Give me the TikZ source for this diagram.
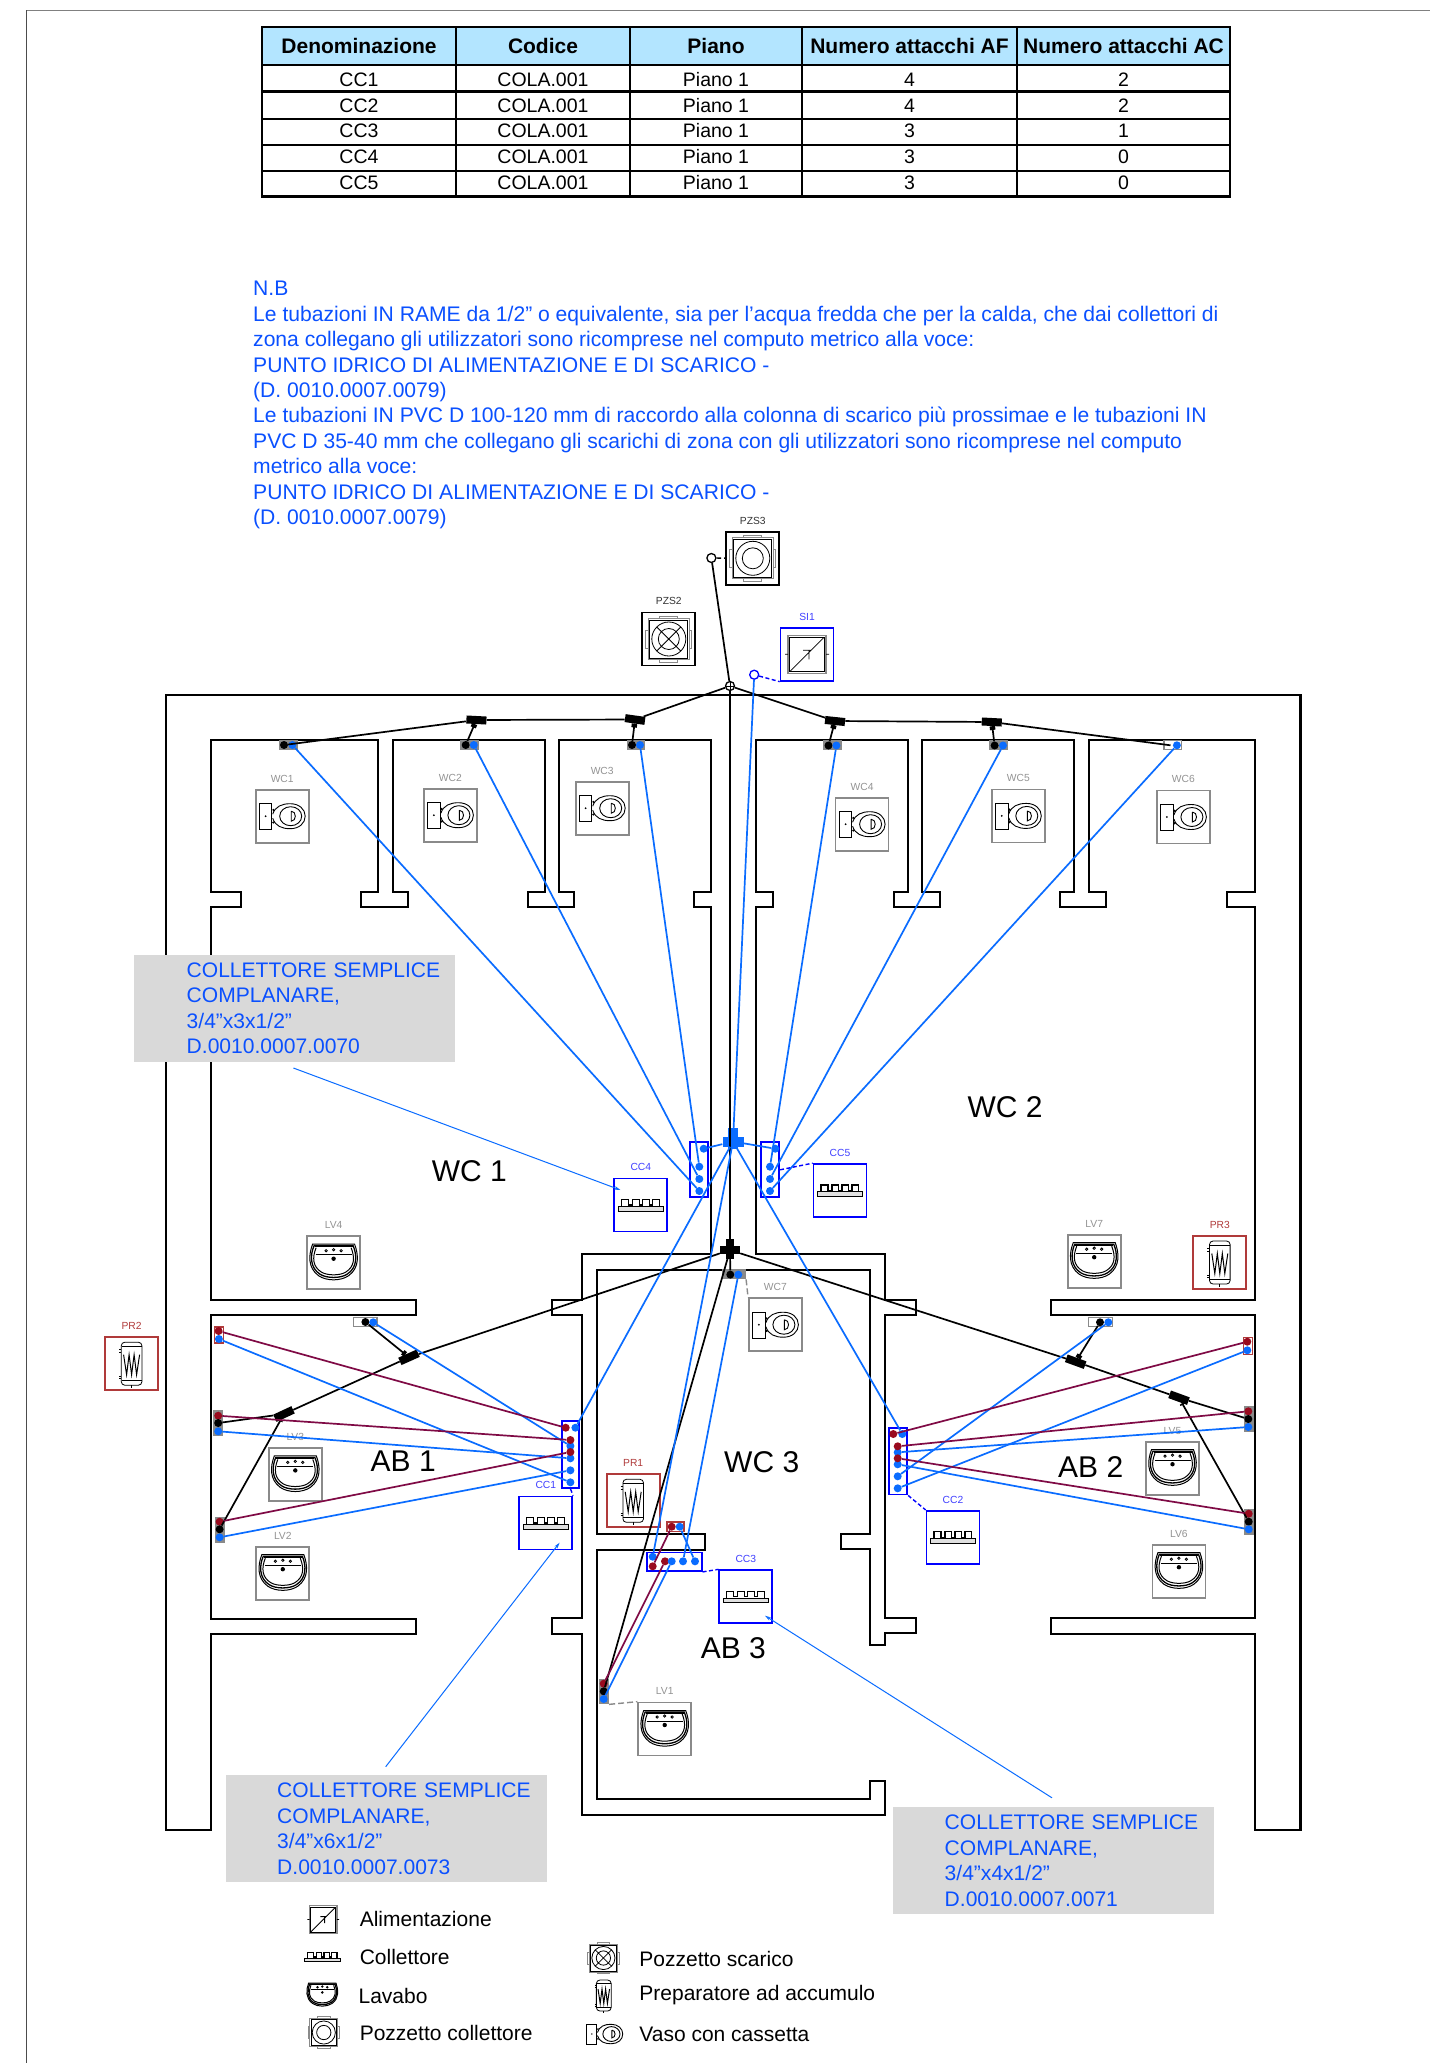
\documentclass[tikz,border=0pt]{standalone}
\usepackage{fontspec}
\setmainfont{Liberation Sans}
\usetikzlibrary{arrows.meta,calc}
\definecolor{pipeblue}{HTML}{0A6CFF}
\definecolor{pipered}{HTML}{7F0A45}
\definecolor{dotred}{HTML}{990A1E}
\definecolor{fixblue}{HTML}{0000FF}
\definecolor{fixred}{HTML}{B03A3A}
\definecolor{fixgray}{HTML}{8A8A8A}
\definecolor{textblue}{HTML}{0A50FF}
\definecolor{boxgray}{HTML}{D9D9D9}
\definecolor{headblue}{HTML}{B3E5FF}
\newcommand{\fsz}[1]{\fontsize{#1}{#1}\selectfont}
\tikzset{
  x=1pt,y=-1pt,
  wall/.style={line width=2.3pt,line join=miter,draw=black},
  fix/.style={draw,line width=1.7pt,minimum width=53pt,minimum height=53pt,inner sep=0pt,shape=rectangle},
  lblgray/.style={text=gray!85,inner sep=0pt,font=\fsz{10.3}},
  lblblue/.style={text=fixblue!75!white,inner sep=0pt,font=\fsz{10.3}},
  lblred/.style={text=fixred,inner sep=0pt,font=\fsz{10.3}},
  lbldark/.style={text=black!80,inner sep=0pt,font=\fsz{10.3}},
  room/.style={inner sep=0pt,font=\fsz{30}},
  pb/.style={circle,fill=pipeblue,minimum size=8pt,inner sep=0pt},
  pr/.style={circle,fill=dotred,minimum size=8pt,inner sep=0pt},
  pk/.style={circle,fill=black,minimum size=8pt,inner sep=0pt},
  bluepipe/.style={draw=pipeblue,line width=1.7pt},
  redpipe/.style={draw=pipered,line width=1.7pt},
  blackpipe/.style={draw=black,line width=1.7pt},
  tj/.style={rectangle,fill=black,minimum width=20pt,minimum height=8pt,inner sep=0pt},
  tjb/.style={rectangle,fill=pipeblue,minimum width=21pt,minimum height=10pt,inner sep=0pt},
  stem/.style={draw=black,line width=5.5pt},
  ring/.style={circle,draw=black,line width=1.3pt,minimum size=9pt,inner sep=0pt},
  pg/.style={rectangle,draw=fixgray,fill=fixgray,line width=1.2pt,inner sep=0pt},
  pw/.style={rectangle,draw=fixgray,fill=white,line width=1.2pt,inner sep=0pt},
  pred/.style={rectangle,draw=fixred,fill=white,line width=1.2pt,inner sep=0pt},
  manif/.style={rectangle,draw=fixblue,line width=1.7pt,inner sep=0pt},
  dashb/.style={draw=fixblue,line width=1.4pt,dash pattern=on 4pt off 2.5pt},
  dashg/.style={draw=fixgray,line width=1.4pt,dash pattern=on 6pt off 3pt},
  leader/.style={draw=pipeblue,line width=1pt,-{Stealth[length=6pt,width=3.5pt]}},
  note/.style={rectangle,anchor=north west,fill=boxgray,text=textblue,minimum width=321pt,minimum height=107pt,text width=321pt,inner sep=0pt,align=left,font=\fontsize{21.05}{25.6}\selectfont},
  legtxt/.style={anchor=west,inner sep=0pt,font=\fsz{21}},
  cellh/.style={inner sep=0pt,font=\fsz{21}\bfseries},
  cellb/.style={inner sep=0pt,font=\fsz{19.5}},
}
% symbols, drawn round (0,0)
\newcommand{\wcsym}[3]{\begin{scope}[shift={(#1,#2)},scale=#3,line width=.9pt]
 \draw (-23,-12.7) rectangle (-10.3,13.4);
 \fill (-16.5,0) circle (1);
 \draw (-9.5,-2) .. controls (-7,-10) and (0,-12.5) .. (8,-12.5) .. controls (17,-12.5) and (23,-7) .. (23,0) .. controls (23,7) and (17,12.5) .. (8,12.5) .. controls (0,12.5) and (-7,10) .. (-9.5,2);
 \draw (8.5,0) ellipse (11 and 9.5);
 \draw (9,-5)--(9,5) .. controls (14.5,5) and (14.5,-5) .. (9,-5);
 \fill (-8.8,-6.3) circle (1.2) (-8.8,6.3) circle (1.2);
\end{scope}}
\newcommand{\lvsym}[3]{\begin{scope}[shift={(#1,#2)},scale=#3]
 \draw[line width=1pt] (-21,-18.5)--(21,-18.5) .. controls (25,-8) and (26,5) .. (15,13) .. controls (7,18.5) and (-7,18.5) .. (-15,13) .. controls (-26,5) and (-25,-8) .. (-21,-18.5) -- cycle;
 \draw[line width=1.3pt] (-19.5,-17)--(19.5,-17) .. controls (23.5,-8) and (24,5) .. (13.5,11.5) .. controls (7,15.8) and (-7,15.8) .. (-13.5,11.5) .. controls (-24,5) and (-23.5,-8) .. (-19.5,-17) -- cycle;
 \draw[line width=1pt] (-17.5,-15) .. controls (-21.5,-5) and (-21,4) .. (-12,9.5) .. controls (-6,13) and (6,13) .. (12,9.5) .. controls (21,4) and (21.5,-5) .. (17.5,-15);
 \draw[line width=.9pt] (-18,-8)--(18,-8);
 \draw[line width=1.6pt] (-19,-16.3)--(19,-16.3);
 \draw[line width=.8pt] (-7.5,-12) circle (1.2) (0,-13) circle (1.2) (7.5,-12) circle (1.2);
 \fill (0,-4) circle (2.2);
\end{scope}}
\newcommand{\prsym}[3]{\begin{scope}[shift={(#1,#2)},scale=#3,line width=.8pt]
 \draw[rounded corners=3.5pt] (-10.3,-21.5) rectangle (10.3,21.5);
 \draw (-10,-17)--(10,-17) (-10,17)--(10,17);
 \draw (-12.5,-14)--(-10.3,-14) (-12.5,-11)--(-10.3,-11) (-12.5,13)--(-10.3,13) (-12.5,15)--(-10.3,15) (0,21.5)--(0,24.5);
 \draw[line width=1pt] (-8,-9)--(-5,11)--(-2.5,-9)--(0,11)--(2.5,-9)--(5,11)--(8,-9);
\end{scope}}
\newcommand{\ccsym}[3]{\begin{scope}[shift={(#1,#2)},scale=#3]
 \fill[black!12] (-22.5,1.3) rectangle (22.5,6);
 \draw[line width=1pt] (-22.5,1.3) rectangle (22.5,6);
 \draw[line width=1.2pt] (-19,1.3)--(-19,-5.5)--(-12,-5.5)--(-12,0)--(-8,0)--(-8,-5.5)--(-1.5,-5.5)--(-1.5,0)--(2,0)--(2,-5.5)--(8.5,-5.5)--(8.5,0)--(12,0)--(12,-5.5)--(18.5,-5.5)--(18.5,1.3);
\end{scope}}
\newcommand{\sisym}[3]{\begin{scope}[shift={(#1,#2)},scale=#3]
 \draw[fixgray,line width=1.3pt] (-19,-19) rectangle (19,19);
 \draw[line width=.7pt] (-17.3,-17.3) rectangle (17.3,17.3);
 \draw[line width=.8pt] (-22,0)--(-19,0) (19,0)--(22,0) (-17,17)--(17,-17) (-4,-4)--(4,-4) (2,-4)--(2,5);
\end{scope}}
\newcommand{\pzbase}{
 \draw[fixgray,line width=1.1pt] (-20.5,-20.5) rectangle (20.5,20.5);
 \draw[line width=.7pt] (-19,-19) rectangle (19,19);
 \draw[fixgray,line width=.8pt] (-9,-20.5) rectangle (9,-23) (-9,20.5) rectangle (9,23) (-23,-9) rectangle (-20.5,9) (20.5,-9) rectangle (23,9);
}
\newcommand{\pzcsym}[3]{\begin{scope}[shift={(#1,#2)},scale=#3]
 \pzbase
 \draw[line width=.8pt] (0,0) circle (17) (0,0) circle (10.5);
\end{scope}}
\newcommand{\pzssym}[3]{\begin{scope}[shift={(#1,#2)},scale=#3]
 \pzbase
 \draw[line width=.8pt] (0,0) circle (17) (0,0) circle (10.5) (-12,-12)--(12,12) (-12,12)--(12,-12);
\end{scope}}
\newcommand{\fixture}[6]{
 \node[fix,draw=#4] (#1) at (#2,#3) {};
 \node[#6] (#1l) at (#2,#3-37.7) {#5};
}
\begin{document}
\begin{tikzpicture}
\useasboundingbox (0,0) rectangle (1430,2063);
\fill[white] (0,0) rectangle (1430,2063);
% sheet frame
\draw[gray,line width=1.6pt] (26,10.5)--(1430,10.5);
\draw[black!70,line width=.8pt] (26,10.5)--(26,2063);
% table
\fill[headblue] (262,27) rectangle (1230,65);
\draw[line width=1.4pt] (456,27)--(456,196.5) (630,27)--(630,196.5) (802,27)--(802,196.5) (1017,27)--(1017,196.5);
\draw[line width=2.6pt] (262,27) rectangle (1230,196.5);
\draw[line width=2.4pt] (262,65)--(1230,65) (262,91.5)--(1230,91.5) (262,119)--(1230,119) (262,145)--(1230,145) (262,171)--(1230,171);
\node[cellh] (hA) at (359,46.4) {Denominazione};
\node[cellh] (hB) at (543,46.4) {Codice};
\node[cellh] (hC) at (716,46.4) {Piano};
\node[cellh] (hD) at (909.5,46.4) {Numero attacchi AF};
\node[cellh] (hE) at (1123.5,46.4) {Numero attacchi AC};
\foreach \ya/\na/\nb/\nc in {80/CC1/4/2,105.4/CC2/4/2,131/CC3/3/1,156.8/CC4/3/0,183/CC5/3/0}{
 \node[cellb] (a\na) at (359,\ya) {\na};
 \node[cellb] (b\na) at (543,\ya) {COLA.001};
 \node[cellb] (c\na) at (716,\ya) {Piano 1};
 \node[cellb] (d\na) at (909.5,\ya) {\nb};
 \node[cellb] (e\na) at (1123.5,\ya) {\nc};
}
% note
\node[anchor=north west,inner sep=0pt,text=textblue,align=left,font=\fontsize{21.1}{25.45}\selectfont] (nb) at (253,281) {N.B\\
Le tubazioni IN RAME da 1/2" o equivalente, sia per l'acqua fredda che per la calda, che dai collettori di\\
zona collegano gli utilizzatori sono ricomprese nel computo metrico alla voce:\\
PUNTO IDRICO DI ALIMENTAZIONE E DI SCARICO -\\
(D. 0010.0007.0079)\\
Le tubazioni IN PVC D 100-120 mm di raccordo alla colonna di scarico più prossimae e le tubazioni IN\\
PVC D 35-40 mm che collegano gli scarichi di zona con gli utilizzatori sono ricomprese nel computo\\
metrico alla voce:\\
PUNTO IDRICO DI ALIMENTAZIONE E DI SCARICO -\\
(D. 0010.0007.0079)};
% walls
\draw[wall] (166,1830)--(166,695)--(1300.5,695)--(1300.5,1830)--(1255,1830)--(1255,1634)--(1051,1634)--(1051,1618)--(1255,1618)--(1255,1315)--(1051,1315)--(1051,1300)--(1255,1300)--(1255,907)--(1227,907)--(1227,892)--(1255,892)--(1255,740)--(1089,740)--(1089,892)--(1106,892)--(1106,907)--(1060,907)--(1060,892)--(1074,892)--(1074,740)--(922,740)--(922,892)--(940,892)--(940,907)--(894,907)--(894,892)--(908,892)--(908,740)--(756,740)--(756,892)--(773,892)--(773,907)--(756,907)--(756,1254)--(885,1254)--(885,1300)--(916,1300)--(916,1315)--(885,1315)--(885,1618)--(916,1618)--(916,1633)--(885,1633)--(885,1645)--(870,1645)--(870,1549)--(841,1549)--(841,1534)--(870,1534)--(870,1270)--(597,1270)--(597,1534)--(705,1534)--(705,1550)--(597,1550)--(597,1799)--(870,1799)--(870,1781)--(885,1781)--(885,1815)--(582,1815)--(582,1634)--(552,1634)--(552,1618)--(582,1618)--(582,1315)--(552,1315)--(552,1300)--(582,1300)--(582,1254)--(711,1254)--(711,907)--(694,907)--(694,892)--(711,892)--(711,740)--(559,740)--(559,892)--(574,892)--(574,907)--(528,907)--(528,892)--(545,892)--(545,740)--(393,740)--(393,892)--(408,892)--(408,907)--(361,907)--(361,892)--(378,892)--(378,740)--(211,740)--(211,892)--(241,892)--(241,907)--(211,907)--(211,1300)--(416,1300)--(416,1315)--(211,1315)--(211,1619)--(416,1619)--(416,1634)--(211,1634)--(211,1830)--cycle;
% room names
\node[room] (rWCa) at (469.3,1170.7) {WC 1};
\node[room] (rWCb) at (1005,1107.6) {WC 2};
\node[room] (rWCc) at (761.7,1461.7) {WC 3};
\node[room] (rABa) at (403.2,1461) {AB 1};
\node[room] (rABb) at (1090.7,1466.7) {AB 2};
\node[room] (rABc) at (733.3,1648.3) {AB 3};
% fixtures
\fixture{wca}{282.2}{816.2}{fixgray}{WC1}{lblgray}\wcsym{282.2}{816.2}{1}
\fixture{wcb}{450.4}{815.2}{fixgray}{WC2}{lblgray}\wcsym{450.4}{815.2}{1}
\fixture{wcc}{602.2}{808.2}{fixgray}{WC3}{lblgray}\wcsym{602.2}{808.2}{1}
\fixture{wcd}{862.1}{824.2}{fixgray}{WC4}{lblgray}\wcsym{862.1}{824.2}{1}
\fixture{wce}{1018.3}{815.9}{fixgray}{WC5}{lblgray}\wcsym{1018.3}{815.9}{1}
\fixture{wcf}{1183.4}{817}{fixgray}{WC6}{lblgray}\wcsym{1183.4}{817}{1}
\fixture{wcg}{775.4}{1324.7}{fixgray}{WC7}{lblgray}\wcsym{775.4}{1324.7}{1}
\fixture{lvd}{333.6}{1262.7}{fixgray}{LV4}{lblgray}\lvsym{333.6}{1262.7}{1}
\fixture{lvc}{295.3}{1474.4}{fixgray}{LV3}{lblgray}\lvsym{295.3}{1474.4}{1}
\fixture{lvb}{282.8}{1573.2}{fixgray}{LV2}{lblgray}\lvsym{282.8}{1573.2}{1}
\fixture{lvg}{1094.2}{1261.2}{fixgray}{LV7}{lblgray}\lvsym{1094.2}{1261.2}{1}
\fixture{lve}{1172.5}{1468.2}{fixgray}{LV5}{lblgray}\lvsym{1172.5}{1468.2}{1}
\fixture{lvf}{1178.9}{1571.2}{fixgray}{LV6}{lblgray}\lvsym{1178.9}{1571.2}{1}
\fixture{lva}{664.7}{1729}{fixgray}{LV1}{lblgray}\lvsym{664.7}{1729}{1}
\fixture{prb}{131.6}{1363.7}{fixred}{PR2}{lblred}\prsym{131.6}{1363.7}{1}
\fixture{pra}{633.2}{1500.8}{fixred}{PR1}{lblred}\prsym{633.2}{1500.8}{1}
\fixture{prc}{1219.8}{1262.5}{fixred}{PR3}{lblred}\prsym{1219.8}{1262.5}{1}
\fixture{ccd}{640.8}{1205}{fixblue}{CC4}{lblblue}\ccsym{640.8}{1205}{1}
\fixture{cce}{840}{1190.5}{fixblue}{CC5}{lblblue}\ccsym{840}{1190.5}{1}
\fixture{cca}{545.8}{1523}{fixblue}{CC1}{lblblue}\ccsym{545.8}{1523}{1}
\fixture{ccb}{953}{1537.3}{fixblue}{CC2}{lblblue}\ccsym{953}{1537.3}{1}
\fixture{ccc}{745.8}{1596.7}{fixblue}{CC3}{lblblue}\ccsym{745.8}{1596.7}{1}
\fixture{sia}{807}{654.3}{fixblue}{SI1}{lblblue}\sisym{807}{654.3}{1}
\fixture{pzb}{668.8}{639}{black}{PZS2}{lbldark}\pzssym{668.8}{639}{1}
\fixture{pzc}{752.8}{558.3}{black}{PZS3}{lbldark}\pzcsym{752.8}{558.3}{1}
% fitting plates
\node[pg,minimum width=17.5pt,minimum height=9pt] (plA) at (288.5,745.3) {};
\node[pg,minimum width=17.5pt,minimum height=9pt] (plB) at (469.4,745.3) {};
\node[pg,minimum width=17.5pt,minimum height=9pt] (plC) at (636,745.3) {};
\node[pg,minimum width=17.5pt,minimum height=9pt] (plD) at (832.2,745.3) {};
\node[pg,minimum width=17.5pt,minimum height=9pt] (plE) at (998.7,745.3) {};
\node[pw,minimum width=17.5pt,minimum height=9pt] (plF) at (1172.7,745.3) {};
\node[pg,minimum width=23pt,minimum height=9pt] (plG) at (734,1274.3) {};
\node[pw,minimum width=23.5pt,minimum height=9pt] (plH) at (365.3,1322.3) {};
\node[pred,minimum width=9pt,minimum height=16pt] (plI) at (218.6,1335) {};
\node[pg,minimum width=9pt,minimum height=24.5pt] (plJ) at (218.2,1423.3) {};
\node[pg,minimum width=9pt,minimum height=24.5pt] (plK) at (219.6,1529.7) {};
\node[pw,minimum width=24pt,minimum height=9pt] (plL) at (1100.3,1322.2) {};
\node[pred,minimum width=9pt,minimum height=16.5pt] (plM) at (1248,1346) {};
\node[pg,minimum width=9pt,minimum height=24.5pt] (plN) at (1248.6,1419.2) {};
\node[pg,minimum width=9pt,minimum height=24.5pt] (plO) at (1248.6,1521.8) {};
\node[pred,minimum width=17pt,minimum height=9.5pt] (plP) at (675.5,1526.7) {};
\node[pg,minimum width=9pt,minimum height=24.5pt] (plQ) at (604,1691.5) {};
% manifolds
\node[manif,minimum width=18pt,minimum height=55pt] (mnd) at (699.3,1169.8) {};
\node[manif,minimum width=18pt,minimum height=55pt] (mne) at (770.2,1169.8) {};
\node[manif,minimum width=17.5pt,minimum height=67pt] (mna) at (570.5,1454.6) {};
\node[manif,minimum width=18.5pt,minimum height=66.5pt] (mnb) at (898,1461.3) {};
\node[manif,minimum width=55pt,minimum height=18.5pt] (mnc) at (674.2,1561.8) {};
% ports: manifolds
\node[pb] (d1) at (703.7,1148.7) {};
\node[pb] (d2) at (699.3,1166.7) {};
\node[pb] (d3) at (699.3,1179) {};
\node[pb] (d4) at (699.3,1191) {};
\node[pb] (e1) at (775.3,1148.7) {};
\node[pb] (e2) at (770,1166.7) {};
\node[pb] (e3) at (770,1179) {};
\node[pb] (e4) at (770,1191) {};
\node[pr] (a1) at (565.7,1427.7) {};
\node[pb] (a2) at (575.4,1427.7) {};
\node[pb] (a4) at (570.4,1446) {};
\node[pb] (a6) at (570.4,1458.3) {};
\node[pr] (a3) at (570.4,1440) {};
\node[pr] (a5) at (570.4,1452) {};
\node[pb] (a7) at (570.4,1470.3) {};
\node[pb] (a8) at (570.4,1482.3) {};
\node[pr] (b1) at (893.3,1434) {};
\node[pb] (b2) at (902.3,1434) {};
\node[pb] (b4) at (897.7,1452.3) {};
\node[pb] (b6) at (897.7,1464.3) {};
\node[pr] (b3) at (897.7,1446.3) {};
\node[pr] (b5) at (897.7,1458.3) {};
\node[pb] (b7) at (897.7,1476.3) {};
\node[pb] (b8) at (897.7,1488.3) {};
\node[pb] (c1) at (652.7,1556.7) {};
\node[pr] (c2) at (652.7,1566.3) {};
\node[pr] (c3) at (665,1561.3) {};
\node[pb] (c4) at (671.7,1561.3) {};
\node[pb] (c5) at (683,1561.3) {};
\node[pb] (c6) at (695,1561.3) {};
% ports: fixtures
\node[pk] (kA) at (284,745) {};
\node[pb] (uA) at (292.4,745) {};
\node[pk] (kB) at (465.7,745) {};
\node[pb] (uB) at (473.8,745) {};
\node[pk] (kC) at (632,745) {};
\node[pb] (uC) at (640,745) {};
\node[pk] (kD) at (828.5,745.5) {};
\node[pb] (uD) at (836.4,745.5) {};
\node[pk] (kE) at (994.6,745.5) {};
\node[pb] (uE) at (1003,745.5) {};
\coordinate (kF) at (1170.5,745.3);
\node[pb] (uF) at (1176.9,745.3) {};
\node[pk] (kG) at (730.3,1274.6) {};
\node[pb] (uG) at (738.3,1274.6) {};
\node[pk] (kH) at (365.4,1322) {};
\node[pb] (uH) at (373.2,1322.3) {};
\node[pr] (rI) at (218.6,1331) {};
\node[pb] (uI) at (218.9,1339) {};
\node[pr] (rJ) at (218.2,1415.7) {};
\node[pk] (kJ) at (218.2,1423) {};
\node[pb] (uJ) at (218.2,1431.3) {};
\node[pr] (rK) at (219.6,1521.7) {};
\node[pk] (kK) at (219.6,1529.3) {};
\node[pb] (uK) at (219.6,1537.3) {};
\node[pk] (kL) at (1100,1322.3) {};
\node[pb] (uL) at (1108.3,1322.3) {};
\node[pr] (rM) at (1247.3,1341.7) {};
\node[pb] (uM) at (1247.3,1350.3) {};
\node[pr] (rN) at (1248.3,1411.3) {};
\node[pk] (kN) at (1248.3,1419) {};
\node[pb] (uN) at (1248.3,1427) {};
\node[pr] (rO) at (1248.7,1513.7) {};
\node[pk] (kO) at (1248.7,1521.7) {};
\node[pb] (uO) at (1248.7,1529.3) {};
\node[pr] (rP) at (671.7,1526.7) {};
\node[pb] (uP) at (679.7,1526.7) {};
\node[pr] (rQ) at (603.7,1683.7) {};
\node[pk] (kQ) at (603.7,1691.3) {};
\node[pb] (uQ) at (603.7,1699) {};
% junctions
\node[ring,path picture={\draw[line width=.8pt] (path picture bounding box.north)--(path picture bounding box.south) (path picture bounding box.west)--(path picture bounding box.east);}] (jn) at (730,686) {};
\node[ring] (zc) at (711.4,558) {};
\node[ring,draw=fixblue] (zi) at (754.2,674.7) {};
\node[tj,rotate=-8] (t1) at (635,719.5) {};
\node[tj,rotate=-3] (t2) at (476.4,720) {};
\node[tj,rotate=-6] (t3) at (835,721) {};
\node[tj,rotate=-3] (t4) at (991.8,722) {};
\node[tj] (bt) at (730,1250) {};
\node[tj,rotate=90] (bv) at (730,1249) {};
\node[tjb] (bj) at (733,1141.5) {};
\node[tjb,rotate=90] (bw) at (733,1138) {};
\node[tj,rotate=24] (t5) at (409,1357.3) {};
\node[tj,rotate=25] (t6) at (284,1414) {};
\node[tj,rotate=-20] (t7) at (1075.7,1361.7) {};
\node[tj,rotate=-20] (t8) at (1179,1397.7) {};
% stems of the tees
\draw[stem] (t1) -- ($(t1)!8pt!(kC)$);
\draw[stem] (t2) -- ($(t2)!8pt!(kB)$);
\draw[stem] (t3) -- ($(t3)!8pt!(kD)$);
\draw[stem] (t4) -- ($(t4)!8pt!(kE)$);
\draw[stem] (t5) -- ($(t5)!8pt!(kH)$);
\draw[stem] (t6) -- ($(t6)!8pt!(kK)$);
\draw[stem] (t7) -- ($(t7)!8pt!(kL)$);
\draw[stem] (t8) -- ($(t8)!8pt!(kO)$);
% waste pipes
\draw[blackpipe] (zc)--(jn);
\draw[blackpipe] (jn)--(t1);
\draw[blackpipe] (jn)--(t3);
\draw[blackpipe] (jn)--(bv);
\draw[blackpipe] (t1)--(t2);
\draw[blackpipe] (t2)--(kA);
\draw[blackpipe] (t1)--(kC);
\draw[blackpipe] (t2)--(kB);
\draw[blackpipe] (t3)--(t4);
\draw[blackpipe] (t3)--(kD);
\draw[blackpipe] (t4)--(kE);
\draw[blackpipe] (t4)--(kF);
\draw[blackpipe] (bv)--(kG);
\draw[blackpipe] (bt)--(kQ);
\draw[blackpipe] (bt)--(t5);
\draw[blackpipe] (t5)--(t6);
\draw[blackpipe] (t5)--(kH);
\draw[blackpipe] (t6)--(kJ);
\draw[blackpipe] (t6)--(kK);
\draw[blackpipe] (bt)--(t7);
\draw[blackpipe] (t7)--(t8);
\draw[blackpipe] (t7)--(kL);
\draw[blackpipe] (t8)--(kN);
\draw[blackpipe] (t8)--(kO);
% cold water
\draw[bluepipe] (zi)--(bj);
\draw[bluepipe] (bj)--(d1);
\draw[bluepipe] (bj)--(e1);
\draw[bluepipe] (bj)--(a2);
\draw[bluepipe] (bj)--(b2);
\draw[bluepipe] (bj)--(c1);
\draw[bluepipe] (uA)--(d4);
\draw[bluepipe] (uB)--(d3);
\draw[bluepipe] (uC)--(d2);
\draw[bluepipe] (uD)--(e2);
\draw[bluepipe] (uE)--(e3);
\draw[bluepipe] (uF)--(e4);
\draw[bluepipe] (uG)--(c5);
\draw[bluepipe] (uP)--(c6);
\draw[bluepipe] (uQ)--(c4);
\draw[bluepipe] (uI)--(a8);
\draw[bluepipe] (uJ)--(a6);
\draw[bluepipe] (uK)--(a7);
\draw[bluepipe] (uH)--(a4);
\draw[bluepipe] (uM)--(b8);
\draw[bluepipe] (uN)--(b4);
\draw[bluepipe] (uO)--(b6);
\draw[bluepipe] (uL)--(b7);
% hot water
\draw[redpipe] (rI)--(a1);
\draw[redpipe] (rJ)--(a3);
\draw[redpipe] (rK)--(a5);
\draw[redpipe] (rM)--(b1);
\draw[redpipe] (rN)--(b3);
\draw[redpipe] (rO)--(b5);
\draw[redpipe] (rP)--(c2);
\draw[redpipe] (rQ)--(c3);
% dashed links
\draw[draw=black,line width=1.4pt,dash pattern=on 4.5pt off 3pt] (zc)--(pzc);
\draw[dashb] (zi)--(sia.south west);
\draw[dashb] (mne.east)--(cce.north west);
\draw[dashb] (mna.south)--(cca.north east);
\draw[dashb] (mnb.south east)--(ccb.north west);
\draw[dashb] (mnc.south east)--(ccc.north west);
\draw[dashg] (plG.south east)--(wcg.north west);
\draw[dashg] (plQ.south east)--(lva.north west);
% callouts
\node[note] (nta) at (134,954.5) {\leftskip=52.5pt COLLETTORE SEMPLICE\\COMPLANARE,\\3/4”x3x1/2”\\D.0010.0007.0070\par};
\node[note] (ntb) at (226,1775) {\leftskip=51pt COLLETTORE SEMPLICE\\COMPLANARE,\\3/4”x6x1/2”\\D.0010.0007.0073\par};
\node[note] (ntc) at (893,1807) {\leftskip=51.5pt COLLETTORE SEMPLICE\\COMPLANARE,\\3/4”x4x1/2”\\D.0010.0007.0071\par};
\coordinate (fa) at (293.4,1068);
\coordinate (fb) at (385.7,1766.7);
\coordinate (fc) at (1052,1797.8);
\coordinate (ga) at (620.5,1190);
\coordinate (gb) at (559.6,1542.7);
\coordinate (gc) at (765,1615.7);
\draw[leader] (fa)--(ga);
\draw[leader] (fb)--(gb);
\draw[leader] (fc)--(gc);
% legend
\sisym{323.2}{1919.5}{.72}
\node[legtxt] (lgA) at (359.6,1919.3) {Alimentazione};
\ccsym{322.5}{1957}{.78}
\node[legtxt] (lgB) at (359.6,1957.3) {Collettore};
\lvsym{322.3}{1995}{.65}
\node[legtxt] (lgC) at (358.4,1995.7) {Lavabo};
\pzcsym{323.8}{2032.5}{.68}
\node[legtxt] (lgD) at (359.6,2033.3) {Pozzetto collettore};
\pzssym{603.4}{1958}{.68}
\node[legtxt] (lgE) at (639.2,1959.3) {Pozzetto scarico};
\prsym{603.8}{1995.5}{.72}
\node[legtxt] (lgF) at (639.2,1995) {Preparatore ad accumulo};
\wcsym{604.8}{2034}{.78}
\node[legtxt] (lgG) at (639.2,2034.3) {Vaso con cassetta};
\end{tikzpicture}
\end{document}
